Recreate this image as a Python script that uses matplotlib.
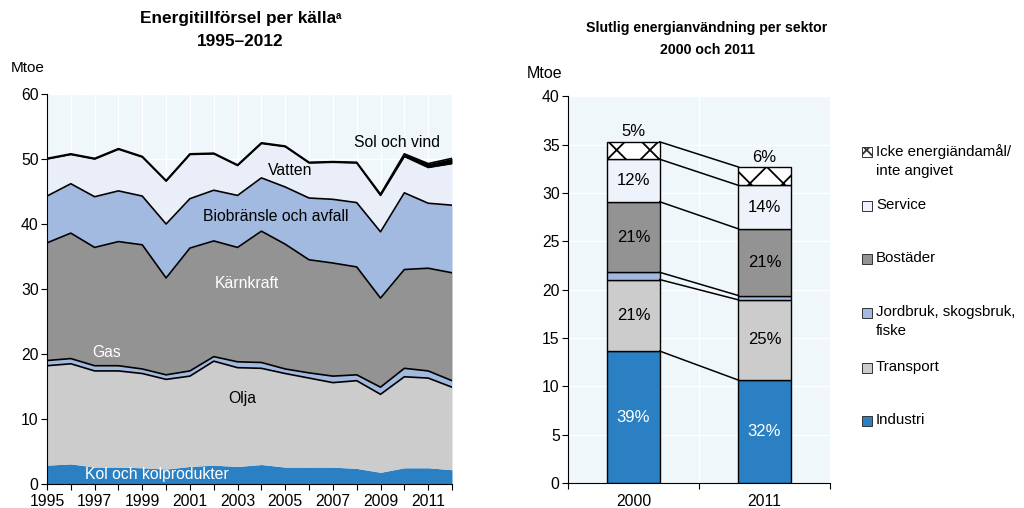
import numpy as np
import matplotlib
matplotlib.use('Agg')
import matplotlib.pyplot as plt
from matplotlib.patches import Rectangle

plt.rcParams['font.family'] = ['Liberation Sans', 'DejaVu Sans']
plt.rcParams['hatch.linewidth'] = 1.3

# --- left chart: energy supply by source (Mtoe) ---
years = np.arange(1995, 2013)
kol = [2.9, 3.1, 2.6, 2.6, 2.5, 2.3, 2.7, 2.9, 2.7, 3.0, 2.6, 2.6, 2.6, 2.4, 1.8, 2.5, 2.5, 2.2]
olja = [15.3, 15.4, 14.8, 14.8, 14.5, 13.8, 13.9, 16.0, 15.2, 14.8, 14.4, 13.7, 13.0, 13.5, 12.0, 14.0, 13.8, 12.7]
gas = [0.8, 0.8, 0.8, 0.8, 0.7, 0.7, 0.8, 0.7, 0.9, 0.9, 0.7, 0.8, 1.0, 0.9, 1.1, 1.3, 1.1, 1.0]
karnkraft = [18.1, 19.3, 18.2, 19.1, 19.1, 14.9, 18.9, 17.8, 17.6, 20.2, 19.2, 17.4, 17.4, 16.6, 13.7, 15.2, 15.8, 16.6]
bio = [7.2, 7.6, 7.8, 7.8, 7.5, 8.3, 7.6, 7.8, 8.0, 8.2, 8.8, 9.5, 9.8, 9.9, 10.2, 11.8, 10.0, 10.4]
vatten = [5.7, 4.5, 5.8, 6.4, 6.0, 6.6, 6.8, 5.6, 4.6, 5.3, 6.2, 5.4, 5.7, 6.1, 5.6, 5.6, 5.5, 6.4]
solvind = [0.1, 0.1, 0.1, 0.1, 0.1, 0.1, 0.1, 0.1, 0.1, 0.1, 0.1, 0.1, 0.1, 0.1, 0.2, 0.4, 0.6, 0.8]

src_colors = ['#2a80c2', '#cccccc', '#a2b9e0', '#939393', '#a2b9e0', '#e9eef8', '#000000']

# --- right chart: final consumption by sector (Mtoe) ---
bar_years = ['2000', '2011']
sectors = ['Industri', 'Transport', 'Jordbruk, skogsbruk,\nfiske', 'Bostäder',
           'Service', 'Icke energiändamål/\ninte angivet']
v2000 = [13.65, 7.4, 0.75, 7.3, 4.4, 1.8]
v2011 = [10.65, 8.3, 0.45, 6.9, 4.5, 1.9]
pct2000 = ['39%', '21%', '', '21%', '12%', '5%']
pct2011 = ['32%', '25%', '', '21%', '14%', '6%']
sec_colors = ['#2a80c2', '#cccccc', '#a2b9e0', '#939393', '#eef2fa', 'white']

bg = '#f0f7fa'

fig = plt.figure(figsize=(10.24, 5.08), dpi=100)

# ================= left =================
ax = fig.add_axes([0.0459, 0.0472, 0.3955, 0.7677])
ax.set_facecolor(bg)
layers = [kol, olja, gas, karnkraft, bio, vatten, solvind]
cum = np.cumsum(np.array(layers, dtype=float), axis=0)
base = np.zeros(len(years))
for i, top in enumerate(cum):
    ax.fill_between(years, base, top, color=src_colors[i], lw=0, zorder=2)
    if i > 0:
        ax.plot(years, top, color='black', lw=1.2, zorder=3)
    base = top

ax.set_xlim(1995, 2012)
ax.set_ylim(0, 60)
ax.set_yticks(np.arange(0, 61, 10))
ax.set_xticks(years, minor=True)
ax.set_xticks(years[::2])
ax.grid(True, which='both', color='white', lw=1, zorder=0)
ax.set_axisbelow(True)
for s in ['top', 'right']:
    ax.spines[s].set_visible(False)
ax.tick_params(axis='both', which='both', direction='out', length=4, width=0.8,
               labelsize=11.3, pad=2)
ax.tick_params(axis='x', pad=3)

lab = 11.3
ax.text(2009.7, 52.6, 'Sol och vind', ha='center', va='center', fontsize=lab)
ax.text(2005.2, 48.3, 'Vatten', ha='center', va='center', fontsize=lab)
ax.text(2004.6, 41.1, 'Biobränsle och avfall', ha='center', va='center', fontsize=lab)
ax.text(2003.4, 30.9, 'Kärnkraft', ha='center', va='center', fontsize=lab, color='white')
ax.text(1997.5, 20.3, 'Gas', ha='center', va='center', fontsize=lab, color='white')
ax.text(2003.2, 13.2, 'Olja', ha='center', va='center', fontsize=lab)
ax.text(1999.6, 1.4, 'Kol och kolprodukter', ha='center', va='center', fontsize=lab, color='white')

fig.text(238 / 1024, 1 - 18 / 508, 'Energitillförsel per källa',
         ha='center', va='center', fontsize=12.4, fontweight='bold')
fig.text(336 / 1024, 1 - 16 / 508, 'a', ha='left', va='center', fontsize=7, fontweight='bold')
fig.text(240 / 1024, 1 - 42 / 508, '1995–2012', ha='center', va='center',
         fontsize=12.4, fontweight='bold')
fig.text(28 / 1024, 1 - 68 / 508, 'Mtoe', ha='center', va='center', fontsize=11)

# ================= right =================
ax2 = fig.add_axes([0.5547, 0.0492, 0.2559, 0.761])
ax2.set_facecolor(bg)
xpos = np.arange(len(bar_years))
w = 0.40
bottoms = np.zeros(2)
tops = []
for i in range(len(sectors)):
    vals = np.array([v2000[i], v2011[i]])
    ax2.bar(xpos, vals, w, bottom=bottoms, color=sec_colors[i], edgecolor='black',
            lw=1, zorder=3, hatch='x' if i == len(sectors) - 1 else None)
    for j, t in enumerate([pct2000[i], pct2011[i]]):
        if not t:
            continue
        if i == len(sectors) - 1:
            ax2.text(xpos[j], bottoms[j] + vals[j] + 0.25, t, ha='center', va='bottom',
                     fontsize=12)
        else:
            ax2.text(xpos[j], bottoms[j] + vals[j] / 2, t, ha='center', va='center',
                     fontsize=12, color='white' if i == 0 else 'black', zorder=4)
    bottoms = bottoms + vals
    tops.append(bottoms.copy())

for t in tops:
    ax2.plot([xpos[0] + w / 2, xpos[1] - w / 2], [t[0], t[1]], color='black', lw=1.1, zorder=3)

ax2.set_xlim(-0.5, 1.5)
ax2.set_ylim(0, 40)
ax2.set_yticks(np.arange(0, 41, 5))
ax2.set_xticks(xpos)
ax2.set_xticklabels(bar_years)
ax2.set_xticks([-0.5, 0.5, 1.5], minor=True)
ax2.grid(True, axis='y', color='white', lw=1, zorder=0)
ax2.grid(True, axis='x', which='minor', color='white', lw=1, zorder=0)
ax2.set_axisbelow(True)
for s in ['top', 'right']:
    ax2.spines[s].set_visible(False)
ax2.tick_params(axis='both', which='both', direction='out', length=4, width=0.8,
                labelsize=11.3, pad=2)
ax2.tick_params(axis='x', which='major', length=0, pad=8)

fig.text(707 / 1024, 1 - 28 / 508, 'Slutlig energianvändning per sektor',
         ha='center', va='center', fontsize=10.2, fontweight='bold')
fig.text(707 / 1024, 1 - 50 / 508, '2000 och 2011', ha='center', va='center',
         fontsize=10.2, fontweight='bold')
fig.text(545 / 1024, 1 - 73 / 508, 'Mtoe', ha='center', va='center', fontsize=11.5)

# legend, top entry first
leg_y = [421, 368, 313, 259, 206, 152]
for i in range(len(sectors) - 1, -1, -1):
    yp = leg_y[i]
    sq = Rectangle((862 / 1024, 1 - (yp + 5) / 508), 10 / 1024, 10 / 508,
                   transform=fig.transFigure, facecolor=sec_colors[i], edgecolor='#333333',
                   lw=0.7, hatch='xx' if i == len(sectors) - 1 else None)
    fig.patches.append(sq)
    fig.text(876 / 1024, 1 - (yp - 8) / 508, sectors[i], ha='left', va='top',
             fontsize=10.8, linespacing=1.45)

fig.savefig('out.png', dpi=100)
